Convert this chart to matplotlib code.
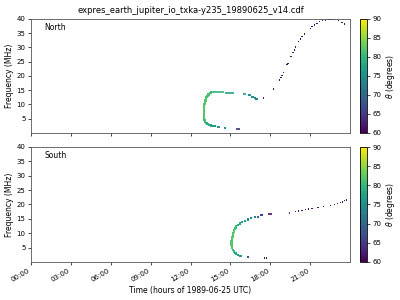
import matplotlib
matplotlib.use("Agg")
import matplotlib.pyplot as plt
import numpy as np

# ---- data (time in hours, frequency in MHz, theta in degrees)
title = "expres_earth_jupiter_io_txka-y235_19890625_v14.cdf"
hour_ticks = [0, 3, 6, 9, 12, 15, 18, 21]
hour_labels = ["00:00", "03:00", "06:00", "09:00", "12:00", "15:00", "18:00", "21:00"]
freq_ticks = [5, 10, 15, 20, 25, 30, 35, 40]
theta_ticks = [60, 65, 70, 75, 80, 85, 90]

# North: points along the emission curve
north_t = [13.54, 13.45, 13.35, 13.28, 13.2, 13.16, 13.12, 13.09, 13.06, 13.04, 13.02, 13.0,
           12.99, 12.99, 12.99, 12.99, 13.0, 13.02, 13.05, 13.1, 13.16, 13.23, 13.3, 13.42,
           13.54, 13.65, 13.8, 14.1, 14.6, 16.43, 16.67, 16.85, 16.97, 17.51,
           18.26, 18.71, 18.81, 18.89, 19.01, 19.26, 19.34, 19.56, 19.71, 19.82, 19.89,
           20.14, 20.27, 20.39, 20.57, 21.02, 21.14, 21.34, 21.51, 21.71, 21.94, 22.14,
           22.39, 22.5, 22.61, 22.75, 22.89, 23.14, 23.39, 23.59]
north_f = [14.2, 13.9, 13.5, 13.0, 12.5, 12.0, 11.4, 10.8, 10.2, 9.6, 9.0, 8.4,
           7.8, 7.2, 6.6, 6.0, 5.4, 4.9, 4.5, 4.0, 3.6, 3.3, 3.0, 2.8,
           2.6, 2.4, 2.3, 2.1, 1.75, 13.2, 12.7, 12.2, 11.8, 12.2,
           15.4, 18.6, 19.4, 20.1, 21.3, 23.9, 24.4, 26.8, 28.3, 29.1, 30.1,
           32.0, 33.0, 33.8, 34.7, 36.7, 37.3, 37.9, 38.5, 39.1, 39.4, 39.6,
           39.9, 39.9, 39.9, 39.9, 39.9, 39.4, 38.8, 38.2]
north_th = [80, 81, 81, 81.5, 81.5, 82, 82, 82, 82, 82, 82, 82,
            82, 82, 82, 82, 82, 81.5, 81, 80.5, 80, 79, 78.5, 78,
            77.5, 77, 76.5, 76, 75.5, 75.5, 75, 74, 73, 62,
            61.5, 61.5, 61.5, 61.5, 61.5, 61.5, 61.5, 61.5, 61.5, 61.5, 61.5,
            61.5, 61.5, 61.5, 61.5, 61.5, 61.5, 61.5, 61.5, 61.5, 61.5, 61.5,
            61, 61, 61, 61, 61, 61.5, 61.5, 61.5]
# North: short horizontal dashes (start, end, freq, theta)
north_dash_t0 = [13.58, 14.6, 15.92, 15.45]
north_dash_t1 = [14.55, 15.3, 16.18, 15.7]
north_dash_f = [14.4, 14.0, 13.6, 1.4]
north_dash_th = [79.5, 77, 76, 64]

# South: points along the emission curve
south_t = [15.89, 15.71, 15.56, 15.44, 15.38, 15.34, 15.3, 15.26, 15.22, 15.19, 15.16, 15.14,
           15.11, 15.09, 15.09, 15.09, 15.1, 15.14, 15.2, 15.26, 15.34, 15.44, 15.6, 15.77,
           16.31, 16.09, 16.34, 16.56, 16.84, 17.09, 17.34, 17.57, 17.72,
           19.89, 20.14, 20.39, 20.64, 20.89, 21.14, 21.59, 22.01, 22.52, 22.82,
           23.06, 23.27, 23.44, 23.59, 23.76]
south_f = [14.0, 13.4, 12.9, 12.3, 11.9, 11.5, 11.1, 10.6, 10.0, 9.4, 8.8, 8.2,
           7.7, 7.1, 6.5, 5.9, 5.3, 4.8, 4.2, 3.6, 3.2, 2.9, 2.5, 2.0,
           1.8, 14.3, 14.8, 15.2, 15.5, 15.7, 16.2, 1.4, 1.4,
           17.5, 17.7, 17.9, 18.2, 18.4, 18.7, 19.0, 19.3, 19.7, 20.0,
           20.4, 20.7, 20.9, 21.3, 21.6]
south_th = [77, 78, 79, 80, 80.5, 81, 81.5, 82, 82, 82, 82, 82,
            82, 82, 82, 82, 82, 81.5, 81, 80, 79, 78, 77, 76,
            68, 76, 75, 74, 73, 70, 66, 61, 61,
            61.5, 61.5, 61.5, 61.5, 61.5, 61.5, 61.5, 61.5, 61.5, 61.5,
            61.5, 61.5, 61.5, 61.5, 61.5]
south_dash_t0 = [17.84, 19.42]
south_dash_t1 = [18.14, 19.52]
south_dash_f = [16.6, 17.0]
south_dash_th = [61, 61.5]

cmap = plt.get_cmap("viridis")
norm = matplotlib.colors.Normalize(vmin=60, vmax=90)

fig = plt.figure(figsize=(4, 3), dpi=100)
ax1 = fig.add_axes([0.0775, 0.557, 0.7975, 0.38])
ax2 = fig.add_axes([0.0775, 0.127, 0.7975, 0.383])
cax1 = fig.add_axes([0.9, 0.557, 0.0175, 0.38])
cax2 = fig.add_axes([0.9, 0.127, 0.0175, 0.383])

panels = [
    (ax1, cax1, "North", north_t, north_f, north_th,
     north_dash_t0, north_dash_t1, north_dash_f, north_dash_th),
    (ax2, cax2, "South", south_t, south_f, south_th,
     south_dash_t0, south_dash_t1, south_dash_f, south_dash_th),
]

for ax, cax, name, t, f, th, d0, d1, df, dth in panels:
    th = np.array(th)
    sizes = np.where(th < 65, 0.9, 2.6)   # faint purple dots are thinner than the green arc
    sc = ax.scatter(t, f, c=th, cmap=cmap, norm=norm, marker="s", s=sizes, linewidths=0)
    ax.hlines(df, d0, d1, colors=cmap(norm(np.array(dth))), linewidth=1.2)
    ax.set_xlim(0, 24)
    ax.set_ylim(0, 40)
    ax.set_xticks(hour_ticks)
    ax.set_yticks(freq_ticks)
    ax.tick_params(labelsize=5, length=2.5, width=0.5, pad=1.5)
    ax.set_ylabel("Frequency (MHz)", fontsize=5.5, labelpad=2)
    ax.text(1.0, 36, name, fontsize=5.5)
    for s in ax.spines.values():
        s.set_linewidth(0.6)
        s.set_color("#555555")
    cb = fig.colorbar(sc, cax=cax, ticks=theta_ticks)
    cb.set_label(r"$\theta$ (degrees)", fontsize=5.5, labelpad=2)
    cb.ax.tick_params(labelsize=5, length=2.5, width=0.5, pad=1.5)
    cb.outline.set_linewidth(0.6)

ax1.set_xticklabels([])
ax2.set_xticklabels(hour_labels, rotation=30, ha="right")
ax2.set_xlabel("Time (hours of 1989-06-25 UTC)", fontsize=5.5, labelpad=2)
ax1.set_title(title, fontsize=6, pad=4)

fig.savefig("out.png", dpi=100)
